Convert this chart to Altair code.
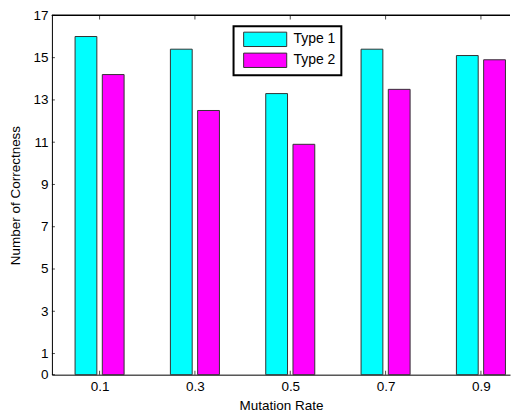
import altair as alt
import pandas as pd

rates = [0.1, 0.3, 0.5, 0.7, 0.9]
type1 = [16.0, 15.4, 13.3, 15.4, 15.1]
type2 = [14.2, 12.5, 10.9, 13.5, 14.9]
series_names = ["Type 1", "Type 2"]
y_ticks = [0, 1, 3, 5, 7, 9, 11, 13, 15, 17]
x_max = 0.961
y_max = 17

# grouped-bar geometry in data units (MATLAB style: 2 bars per group)
slot = 0.2 * 2 / 3.5 / 2
bar_w = slot * 0.8
centers = [-slot / 2, slot / 2]

rows = []
for i, r in enumerate(rates):
    for s, vals in enumerate([type1, type2]):
        c = r + centers[s]
        rows.append({"rate": r, "series": series_names[s], "value": vals[i],
                     "base": 0, "x0": c - bar_w / 2, "x1": c + bar_w / 2})
df = pd.DataFrame(rows)
xdf = pd.DataFrame({"rate": rates})
ydf = pd.DataFrame({"v": y_ticks})

W, H = 459, 360
xscale = alt.Scale(domain=[0, x_max], nice=False, zero=False, padding=0)
yscale = alt.Scale(domain=[0, y_max], nice=False, zero=False, padding=0)

x_axis = alt.Axis(values=rates, format=".1f", ticks=False, grid=False,
                  domain=True, title="Mutation Rate", labelPadding=5,
                  titlePadding=5, labelOverlap=False)
y_axis = alt.Axis(values=y_ticks, format="d", ticks=False, grid=False, domain=True,
                  title="Number of Correctness", labelPadding=4,
                  titlePadding=10, labelOverlap=False)

bars = alt.Chart(df).mark_rect(stroke="#333333", strokeWidth=1).encode(
    x=alt.X("x0:Q", scale=xscale, axis=x_axis),
    x2="x1:Q",
    y=alt.Y("value:Q", scale=yscale, axis=y_axis),
    y2="base:Q",
    color=alt.Color("series:N",
                    scale=alt.Scale(domain=series_names, range=["#00FFFF", "#FF00FF"]),
                    legend=alt.Legend(title=None, orient="none", legendX=182, legendY=11,
                                      symbolType="M-0.4,-1H5.6V1H-0.4Z", symbolSize=207,
                                      symbolStrokeColor="#333333", symbolStrokeWidth=1,
                                      symbolOpacity=1, labelFontSize=14, labelOffset=39,
                                      fillColor="white", padding=5, rowPadding=1)),
)

ytick_marks = alt.Chart(ydf).mark_tick(orient="horizontal", size=3, thickness=1,
                                       xOffset=1.5, color="black").encode(
    y=alt.Y("v:Q", scale=yscale, axis=y_axis),
    x=alt.datum(0, scale=xscale, axis=x_axis, type="quantitative"),
)

xtick_bottom = alt.Chart(xdf).mark_tick(orient="vertical", size=4, thickness=1,
                                        yOffset=-2, color="black").encode(
    x=alt.X("rate:Q", scale=xscale, axis=x_axis),
    y=alt.datum(0, scale=yscale, axis=y_axis, type="quantitative"),
)

xtick_top = alt.Chart(xdf).mark_tick(orient="vertical", size=4, thickness=1,
                                     yOffset=2, color="black").encode(
    x=alt.X("rate:Q", scale=xscale, axis=x_axis),
    y=alt.datum(y_max, scale=yscale, axis=y_axis, type="quantitative"),
)

top_frame = alt.Chart(xdf).mark_rule(color="black", strokeWidth=1).encode(
    y=alt.datum(y_max, scale=yscale, axis=y_axis, type="quantitative"),
    x=alt.datum(0, scale=xscale, axis=x_axis, type="quantitative"),
    x2=alt.datum(x_max),
)

chart = alt.layer(bars, ytick_marks, xtick_bottom, xtick_top, top_frame).properties(
    width=W, height=H,
    padding={"left": 0, "right": 0, "top": 0, "bottom": 0},
).configure(
    font="Liberation Sans",
).configure_axis(
    labelFontSize=13.5, titleFontSize=13.5, labelColor="black", titleColor="black",
    domainColor="black", tickColor="black", labelFont="Liberation Sans",
    titleFont="Liberation Sans", titleFontWeight="normal", labelOverlap=False,
).configure_legend(
    labelFont="Liberation Sans", labelColor="black",
    strokeColor="black", strokeWidth=2,
).configure_view(strokeWidth=0)

chart.save("out.html", embed_options={"renderer": "svg", "actions": False})
